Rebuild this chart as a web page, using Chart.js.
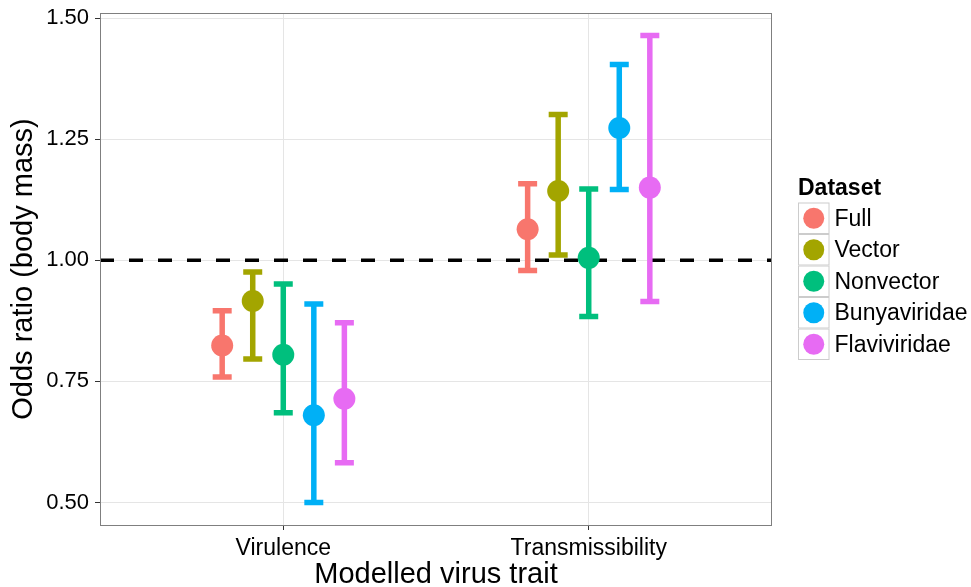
<!DOCTYPE html>
<html>
<head>
<meta charset="utf-8">
<title>Odds ratio (body mass) by modelled virus trait</title>
<script src="https://cdn.jsdelivr.net/npm/chart.js@4/dist/chart.umd.min.js"></script>
<style>
  html, body { margin: 0; padding: 0; background: #ffffff; }
  #wrap { width: 971px; height: 587px; }
</style>
</head>
<body>
<div id="wrap"><canvas id="chart" width="971" height="587"></canvas></div>
<script>
// Trait categories on the x axis
const traits = ['Virulence', 'Transmissibility'];

// Datasets (one series each), dodged side by side within a trait
const datasetNames = ['Full', 'Vector', 'Nonvector', 'Bunyaviridae', 'Flaviviridae'];
const datasetColors = ['#F8766D', '#A3A500', '#00BF7D', '#00B0F6', '#E76BF3'];
const dodgeOffsets = [-0.2, -0.1, 0, 0.1, 0.2];

// Odds ratio estimates, [Virulence, Transmissibility]
const estFull         = [0.824, 1.064];
const estVector       = [0.916, 1.143];
const estNonvector    = [0.805, 1.005];
const estBunyaviridae = [0.680, 1.273];
const estFlaviviridae = [0.714, 1.150];

// Lower confidence limits
const lowFull         = [0.759, 0.979];
const lowVector       = [0.796, 1.011];
const lowNonvector    = [0.685, 0.884];
const lowBunyaviridae = [0.500, 1.146];
const lowFlaviviridae = [0.582, 0.915];

// Upper confidence limits
const highFull         = [0.896, 1.158];
const highVector       = [0.976, 1.301];
const highNonvector    = [0.951, 1.147];
const highBunyaviridae = [0.910, 1.404];
const highFlaviviridae = [0.871, 1.464];

// Axis ticks and reference level
const yTicks = [0.50, 0.75, 1.00, 1.25, 1.50];
const referenceOR = 1.0;

const estimates = [estFull, estVector, estNonvector, estBunyaviridae, estFlaviviridae];
const lows = [lowFull, lowVector, lowNonvector, lowBunyaviridae, lowFlaviviridae];
const highs = [highFull, highVector, highNonvector, highBunyaviridae, highFlaviviridae];

const FONT = "'Liberation Sans', Arial, Helvetica, sans-serif";

const datasets = datasetNames.map((name, s) => ({
  label: name,
  data: traits.map((t, i) => ({
    x: i + 1 + dodgeOffsets[s],
    y: estimates[s][i],
    lo: lows[s][i],
    hi: highs[s][i]
  })),
  backgroundColor: datasetColors[s],
  borderColor: datasetColors[s],
  borderWidth: 0,
  pointRadius: 11,
  pointHoverRadius: 11,
  pointStyle: 'circle'
}));

// Reference line, error bars, panel border, titles and legend
const decorations = {
  id: 'decorations',
  beforeDatasetsDraw(chart) {
    const { ctx, chartArea: a, scales: { x, y } } = chart;
    ctx.save();
    ctx.beginPath();
    ctx.rect(a.left, a.top, a.right - a.left, a.bottom - a.top);
    ctx.clip();

    // dashed reference line at OR = 1
    const yr = y.getPixelForValue(referenceOR);
    ctx.strokeStyle = '#000000';
    ctx.lineWidth = 3.5;
    ctx.setLineDash([14, 15]);
    ctx.beginPath();
    ctx.moveTo(a.left, yr);
    ctx.lineTo(a.right, yr);
    ctx.stroke();
    ctx.setLineDash([]);

    // confidence interval bars with caps
    const capHalf = 9.5;
    chart.data.datasets.forEach((ds) => {
      ctx.strokeStyle = ds.borderColor;
      ctx.lineWidth = 5.5;
      ctx.lineCap = 'butt';
      ds.data.forEach((p) => {
        const px = x.getPixelForValue(p.x);
        const pl = y.getPixelForValue(p.lo);
        const ph = y.getPixelForValue(p.hi);
        ctx.beginPath();
        ctx.moveTo(px, pl);
        ctx.lineTo(px, ph);
        ctx.moveTo(px - capHalf, ph);
        ctx.lineTo(px + capHalf, ph);
        ctx.moveTo(px - capHalf, pl);
        ctx.lineTo(px + capHalf, pl);
        ctx.stroke();
      });
    });
    ctx.restore();
  },
  afterDraw(chart) {
    const { ctx, chartArea: a } = chart;
    ctx.save();

    // panel border
    ctx.strokeStyle = '#7F7F7F';
    ctx.lineWidth = 1;
    ctx.strokeRect(a.left + 0.5, a.top + 0.5, a.right - a.left - 1, a.bottom - a.top);

    // axis titles
    ctx.fillStyle = '#000000';
    ctx.font = `29px ${FONT}`;
    ctx.textAlign = 'center';
    ctx.textBaseline = 'alphabetic';
    ctx.fillText('Modelled virus trait', (a.left + a.right) / 2, 583);

    ctx.save();
    ctx.translate(32, (a.top + a.bottom) / 2);
    ctx.rotate(-Math.PI / 2);
    ctx.fillText('Odds ratio (body mass)', 0, 0);
    ctx.restore();

    // legend
    const lx = 798, ly0 = 202.5, key = 31.5;
    ctx.textAlign = 'left';
    ctx.font = `bold 23px ${FONT}`;
    ctx.fillText('Dataset', lx, 195);
    ctx.font = `23px ${FONT}`;
    ctx.textBaseline = 'middle';
    datasetNames.forEach((name, s) => {
      const top = ly0 + s * key;
      ctx.fillStyle = '#FFFFFF';
      ctx.fillRect(lx, top, key, key);
      ctx.strokeStyle = '#CCCCCC';
      ctx.lineWidth = 1;
      ctx.strokeRect(lx + 0.5, top + 0.5, key - 1, key - 1);
      ctx.fillStyle = datasetColors[s];
      ctx.beginPath();
      ctx.arc(lx + key / 2, top + key / 2, 10.5, 0, Math.PI * 2);
      ctx.fill();
      ctx.fillStyle = '#000000';
      ctx.fillText(name, lx + key + 5, top + key / 2 + 1);
    });
    ctx.restore();
  }
};

new Chart(document.getElementById('chart'), {
  type: 'scatter',
  data: { datasets },
  options: {
    responsive: false,
    devicePixelRatio: 1,
    animation: false,
    layout: { padding: { top: 13, right: 199, left: 0, bottom: 0 } },
    plugins: {
      legend: { display: false },
      tooltip: { enabled: false }
    },
    scales: {
      x: {
        type: 'linear',
        min: 0.4,
        max: 2.6,
        afterBuildTicks(scale) {
          scale.ticks = traits.map((t, i) => ({ value: i + 1 }));
        },
        afterFit(scale) {
          scale.height = 62;
          scale.paddingLeft = 0;
          scale.paddingRight = 0;
        },
        ticks: {
          callback: (v, i) => traits[i],
          font: { family: FONT, size: 23 },
          color: '#000000',
          padding: 5,
          maxRotation: 0,
          autoSkip: false
        },
        grid: { color: '#E5E5E5', lineWidth: 1, tickLength: 5, tickColor: '#333333' },
        border: { display: false }
      },
      y: {
        type: 'linear',
        min: 0.4535,
        max: 1.5105,
        afterBuildTicks(scale) {
          scale.ticks = yTicks.map((v) => ({ value: v }));
        },
        afterFit(scale) {
          scale.width = 100;
          scale.paddingTop = 0;
          scale.paddingBottom = 0;
        },
        ticks: {
          callback: (v) => Number(v).toFixed(2),
          font: { family: FONT, size: 22 },
          color: '#000000',
          padding: 6,
          autoSkip: false
        },
        grid: { color: '#E5E5E5', lineWidth: 1, tickLength: 5, tickColor: '#333333' },
        border: { display: false }
      }
    }
  },
  plugins: [decorations]
});
</script>
</body>
</html>
